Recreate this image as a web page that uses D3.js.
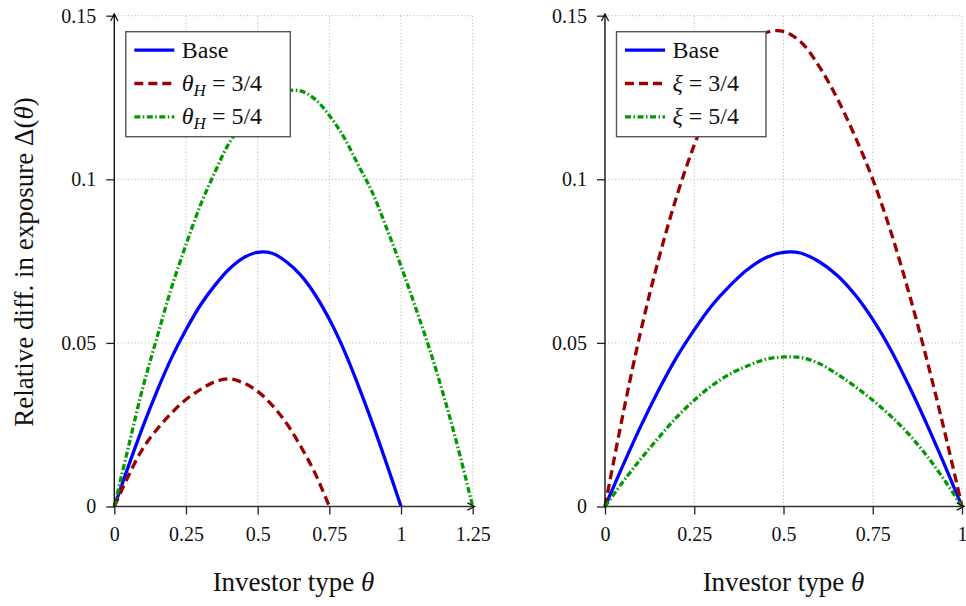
<!DOCTYPE html>
<html>
<head>
<meta charset="utf-8">
<script src="https://cdn.jsdelivr.net/npm/d3@7"></script>
<style>
	body { margin: 0; background: #fff; }
	svg { font-family: 'Liberation Serif', 'DejaVu Serif', serif; }
</style>
</head>
<body>
<svg id="chart" width="966" height="606"></svg>
<script>
// grid of investor types
const theta = [0, 0.05, 0.1, 0.15, 0.2, 0.25, 0.3, 0.35, 0.4, 0.45, 0.5,
	0.55, 0.6, 0.65, 0.7, 0.75, 0.8, 0.85, 0.9, 0.95, 1];
const thetaShort = theta.slice(0, 16);
const thetaLong = [0, 0.05, 0.1, 0.15, 0.2, 0.25, 0.3, 0.35, 0.4, 0.45, 0.5,
	0.55, 0.6, 0.65, 0.7, 0.75, 0.8, 0.85, 0.9, 0.95, 1, 1.05, 1.1, 1.15, 1.2, 1.25];

const base = [0, 0.0125, 0.0245, 0.0355, 0.0455, 0.054, 0.0615, 0.0675, 0.0725, 0.076, 0.0777,
	0.0774, 0.0748, 0.0707, 0.0648, 0.0572, 0.048, 0.0372, 0.0255, 0.013, 0];
const thetaH34 = [0, 0.0095, 0.0178, 0.0237, 0.0286, 0.0327, 0.0357, 0.0381, 0.039, 0.0378,
	0.0352, 0.031, 0.0255, 0.0184, 0.0102, 0];
const thetaH54 = [0, 0.0185, 0.0365, 0.052, 0.067, 0.08, 0.092, 0.102, 0.111, 0.117, 0.122,
	0.1255, 0.127, 0.127, 0.1245, 0.1195, 0.113, 0.1045, 0.096, 0.085, 0.0735,
	0.061, 0.048, 0.0335, 0.0175, 0];
const xi34 = [0, 0.028, 0.0535, 0.0755, 0.0945, 0.1105, 0.1235, 0.1335, 0.1405, 0.1448, 0.1452,
	0.1418, 0.1345, 0.1248, 0.1132, 0.1, 0.0842, 0.0658, 0.0455, 0.0235, 0];
const xi54 = [0, 0.0075, 0.0145, 0.021, 0.0272, 0.0325, 0.037, 0.0405, 0.043, 0.045, 0.0457,
	0.0455, 0.0437, 0.0405, 0.0367, 0.0325, 0.0277, 0.0222, 0.0157, 0.0082, 0];

const yTicks = [0, 0.05, 0.1, 0.15];
const yTickLabels = ['0', '0.05', '0.1', '0.15'];
const xTicksLeft = [0, 0.25, 0.5, 0.75, 1, 1.25];
const xTickLabelsLeft = ['0', '0.25', '0.5', '0.75', '1', '1.25'];
const xTicksRight = [0, 0.25, 0.5, 0.75, 1];
const xTickLabelsRight = ['0', '0.25', '0.5', '0.75', '1'];

const colors = { base: '#0000ff', low: '#9b0000', high: '#009a00' };
const dashes = { base: null, low: '9,5', high: '6,2.5,1.5,2.5' };

const svg = d3.select('#chart');

svg.append('defs').append('marker')
	.attr('id', 'arrow')
	.attr('viewBox', '0 0 10 10')
	.attr('refX', 8)
	.attr('refY', 5)
	.attr('markerWidth', 9)
	.attr('markerHeight', 9)
	.attr('markerUnits', 'userSpaceOnUse')
	.attr('orient', 'auto')
	.append('path')
	.attr('d', 'M 1,1 L 9,5 L 1,9')
	.attr('fill', 'none')
	.attr('stroke', '#111')
	.attr('stroke-width', 1.4);

const y = d3.scaleLinear().domain([0, 0.15]).range([506.5, 15.7]);

function drawPanel(p) {
	const x = d3.scaleLinear().domain(p.domain).range([p.left, p.right]);
	const g = svg.append('g');

	// dotted grid
	g.selectAll('.vgrid').data(p.xTicks.slice(1)).join('line')
		.attr('x1', d => x(d)).attr('x2', d => x(d))
		.attr('y1', y(0)).attr('y2', y(0.15))
		.attr('stroke', '#b0b0b0').attr('stroke-width', 1)
		.attr('stroke-dasharray', '1,2.4');
	g.selectAll('.hgrid').data(yTicks.slice(1)).join('line')
		.attr('x1', x(0)).attr('x2', x(p.domain[1]))
		.attr('y1', d => y(d)).attr('y2', d => y(d))
		.attr('stroke', '#b0b0b0').attr('stroke-width', 1)
		.attr('stroke-dasharray', '1,2.4');

	// curves
	const line = d3.line()
		.x(d => x(d[0]))
		.y(d => y(d[1]))
		.curve(d3.curveCatmullRom.alpha(0.5));
	p.series.forEach(s => {
		g.append('path')
			.datum(s.xs.map((v, i) => [v, s.ys[i]]))
			.attr('d', line)
			.attr('fill', 'none')
			.attr('stroke', colors[s.kind])
			.attr('stroke-width', 3.3)
			.attr('stroke-dasharray', dashes[s.kind]);
	});

	// axes
	const xAxis = d3.axisBottom(x)
		.tickValues(p.xTicks)
		.tickFormat((d, i) => p.xLabels[i])
		.tickSize(8)
		.tickPadding(12)
		.tickSizeOuter(0);
	const xg = g.append('g').attr('transform', `translate(0,${y(0)})`).call(xAxis);
	xg.select('.domain').remove();
	xg.selectAll('line').attr('stroke', '#222').attr('stroke-width', 1.3);
	xg.selectAll('text').attr('font-size', 20).attr('fill', '#111')
		.attr('font-family', 'Liberation Serif');

	const yAxis = d3.axisLeft(y)
		.tickValues(yTicks)
		.tickFormat((d, i) => yTickLabels[i])
		.tickSize(8)
		.tickPadding(10)
		.tickSizeOuter(0);
	const yg = g.append('g').attr('transform', `translate(${x(0)},0)`).call(yAxis);
	yg.select('.domain').remove();
	yg.selectAll('line').attr('stroke', '#222').attr('stroke-width', 1.3);
	yg.selectAll('text').attr('font-size', 20).attr('fill', '#111')
		.attr('font-family', 'Liberation Serif');

	g.append('line')
		.attr('x1', x(0) - 1).attr('x2', x(p.domain[1]) + 1)
		.attr('y1', y(0)).attr('y2', y(0))
		.attr('stroke', '#333').attr('stroke-width', 1.6)
		.attr('marker-end', 'url(#arrow)');
	g.append('line')
		.attr('x1', x(0)).attr('x2', x(0))
		.attr('y1', y(0) + 1).attr('y2', y(0.15) - 1)
		.attr('stroke', '#111').attr('stroke-width', 1.4)
		.attr('marker-end', 'url(#arrow)');

	// x axis title
	const xt = g.append('text')
		.attr('x', (p.left + p.right) / 2)
		.attr('y', 591)
		.attr('text-anchor', 'middle')
		.attr('font-size', 27)
		.attr('fill', '#111');
	xt.append('tspan').text('Investor type ');
	xt.append('tspan').attr('font-style', 'italic').text('θ');

	// legend
	const lg = g.append('g').attr('transform', `translate(${x(0) + 11.5},31.7)`);
	lg.append('rect')
		.attr('width', p.legendWidth).attr('height', 105)
		.attr('fill', '#fff').attr('stroke', '#555').attr('stroke-width', 1.4);
	p.series.forEach((s, i) => {
		const ly = 18.5 + i * 33.3;
		lg.append('line')
			.attr('x1', 8.5).attr('x2', 48.5)
			.attr('y1', ly).attr('y2', ly)
			.attr('stroke', colors[s.kind])
			.attr('stroke-width', 3.3)
			.attr('stroke-dasharray', dashes[s.kind]);
		const t = lg.append('text')
			.attr('x', 56).attr('y', ly + 7.5)
			.attr('font-size', 24).attr('fill', '#111');
		s.label.forEach(part => {
			const ts = t.append('tspan').text(part.t);
			if (part.it) ts.attr('font-style', 'italic');
			if (part.sub) ts.attr('font-size', 17).attr('dy', 5);
			if (part.back) ts.attr('dy', -5);
		});
	});
}

drawPanel({
	left: 114.3, right: 472.7, domain: [0, 1.25],
	xTicks: xTicksLeft, xLabels: xTickLabelsLeft, legendWidth: 164.5,
	series: [
		{ kind: 'base', xs: theta, ys: base, label: [{ t: 'Base' }] },
		{ kind: 'low', xs: thetaShort, ys: thetaH34,
			label: [{ t: 'θ', it: true }, { t: 'H', it: true, sub: true }, { t: ' = 3/4', back: true }] },
		{ kind: 'high', xs: thetaLong, ys: thetaH54,
			label: [{ t: 'θ', it: true }, { t: 'H', it: true, sub: true }, { t: ' = 5/4', back: true }] },
	],
});

drawPanel({
	left: 605, right: 962, domain: [0, 1],
	xTicks: xTicksRight, xLabels: xTickLabelsRight, legendWidth: 149.5,
	series: [
		{ kind: 'base', xs: theta, ys: base, label: [{ t: 'Base' }] },
		{ kind: 'low', xs: theta, ys: xi34, label: [{ t: 'ξ', it: true }, { t: ' = 3/4' }] },
		{ kind: 'high', xs: theta, ys: xi54, label: [{ t: 'ξ', it: true }, { t: ' = 5/4' }] },
	],
});

// shared y axis title
const yt = svg.append('text')
	.attr('transform', 'translate(33,262) rotate(-90)')
	.attr('text-anchor', 'middle')
	.attr('font-size', 27)
	.attr('fill', '#111');
yt.append('tspan').text('Relative diff. in exposure Δ(');
yt.append('tspan').attr('font-style', 'italic').text('θ');
yt.append('tspan').text(')');
</script>
</body>
</html>
